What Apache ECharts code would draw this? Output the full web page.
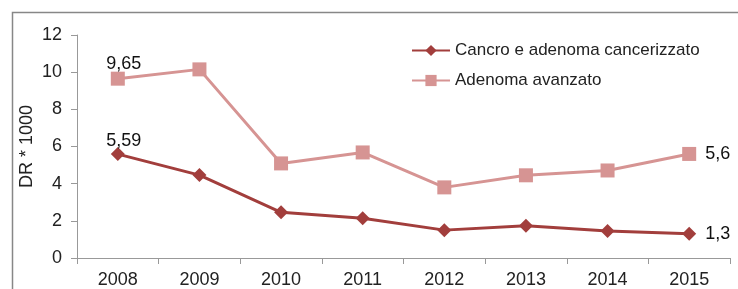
<!DOCTYPE html>
<html>
<head>
<meta charset="utf-8">
<script src="https://cdn.jsdelivr.net/npm/echarts@6/dist/echarts.min.js"></script>
<style>
  html, body { margin: 0; padding: 0; background: #fff; }
  #chart { width: 738px; height: 289px; }
</style>
</head>
<body>
<div id="chart"></div>
<script>
// dati
const anni = ["2008", "2009", "2010", "2011", "2012", "2013", "2014", "2015"];
const cancro = [5.59, 4.46, 2.46, 2.14, 1.5, 1.73, 1.45, 1.3];
const adenomaAvanzato = [9.65, 10.15, 5.09, 5.68, 3.8, 4.45, 4.71, 5.6];
const yTicks = [0, 2, 4, 6, 8, 10, 12];

const rosso = "#a23e3c";
const rosa = "#d69493";

// etichette solo sul primo e ultimo punto, con la virgola
function etichetta(p) {
  if (p.dataIndex === 0 || p.dataIndex === anni.length - 1) {
    return String(p.value).replace(".", ",");
  }
  return "";
}

// l'ultima etichetta sta a destra del punto
function conEtichette(valori) {
  return valori.map((v, i) =>
    i === anni.length - 1
      ? { value: v, label: { position: "right", offset: [4, 0] } }
      : v
  );
}

const chart = echarts.init(document.getElementById("chart"));
chart.setOption({
  animation: false,
  textStyle: { fontFamily: "Liberation Sans, Arial, sans-serif" },
  graphic: [
    {
      type: "rect",
      shape: { x: 12.5, y: 12.5, width: 760, height: 300 },
      style: { fill: "none", stroke: "#878787", lineWidth: 1.5 },
      silent: true,
    },
  ],
  grid: { left: 77, right: 8, top: 35, bottom: 30 },
  legend: {
    orient: "vertical",
    left: 406,
    top: 37,
    itemWidth: 38,
    itemHeight: 14,
    itemGap: 13,
    textStyle: { fontSize: 17, color: "#222" },
    data: ["Cancro e adenoma cancerizzato", "Adenoma avanzato"],
  },
  xAxis: {
    type: "category",
    data: anni,
    boundaryGap: true,
    axisLine: { lineStyle: { color: "#999" } },
    axisTick: { show: true, length: 6, lineStyle: { color: "#999" } },
    axisLabel: { fontSize: 18, color: "#222", margin: 13 },
  },
  yAxis: {
    type: "value",
    min: yTicks[0],
    max: yTicks[yTicks.length - 1],
    interval: 2,
    name: "DR * 1000",
    nameLocation: "middle",
    nameGap: 41,
    nameMoveOverlap: false,
    nameTextStyle: { fontSize: 18, color: "#222" },
    axisLine: { show: true, lineStyle: { color: "#999" } },
    axisTick: { show: true, length: 6, lineStyle: { color: "#999" } },
    axisLabel: { fontSize: 18, color: "#222", margin: 15 },
    splitLine: { show: false },
  },
  series: [
    {
      name: "Cancro e adenoma cancerizzato",
      type: "line",
      data: conEtichette(cancro),
      symbol: "diamond",
      symbolSize: 14,
      itemStyle: { color: rosso },
      lineStyle: { color: rosso, width: 3 },
      label: {
        show: true,
        formatter: etichetta,
        fontSize: 18,
        color: "#111",
        position: "top",
        offset: [6, 8],
      },
      z: 3,
    },
    {
      name: "Adenoma avanzato",
      type: "line",
      data: conEtichette(adenomaAvanzato),
      symbol: "rect",
      symbolSize: 14,
      itemStyle: { color: rosa },
      lineStyle: { color: rosa, width: 3 },
      label: {
        show: true,
        formatter: etichetta,
        fontSize: 18,
        color: "#111",
        position: "top",
        offset: [6, 6],
      },
      z: 2,
    },
  ],
});

window.onresize = function () {
  chart.resize();
};
</script>
</body>
</html>
